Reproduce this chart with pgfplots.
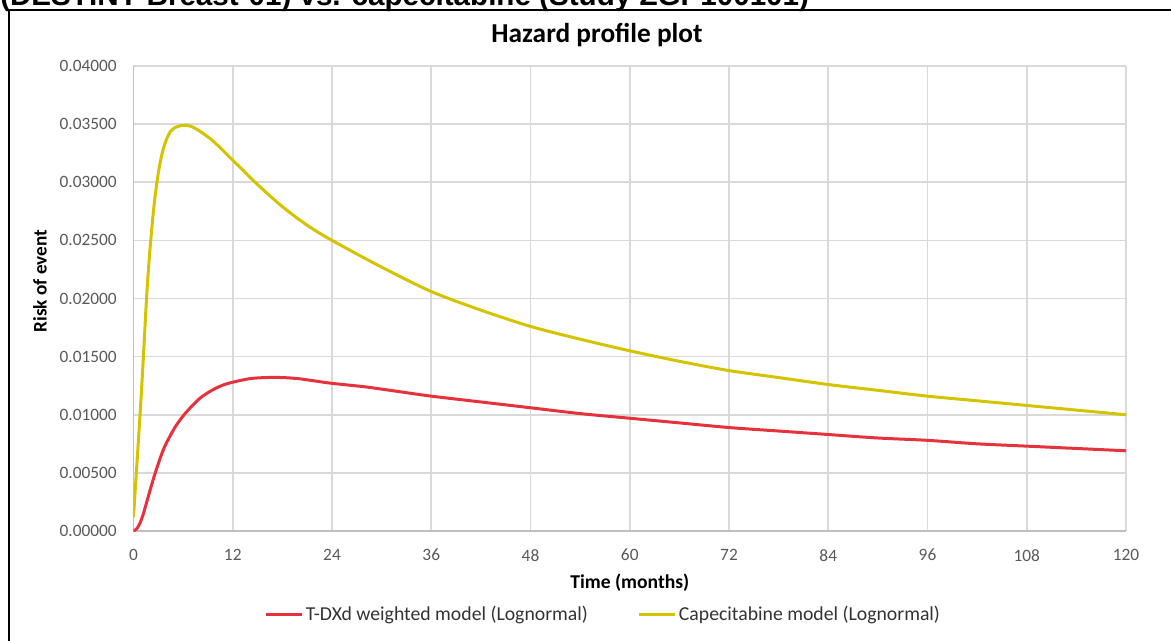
\documentclass[border=0pt]{standalone}
\usepackage{fontspec}
\setmainfont{Carlito}
\newfontfamily\arialfont{Liberation Sans}
\usepackage{pgfplots}
\pgfplotsset{compat=1.18}
\definecolor{tdxd}{RGB}{230,50,60}
\definecolor{cape}{RGB}{212,196,0}
\definecolor{gridc}{RGB}{217,217,217}
\definecolor{axc}{RGB}{191,191,191}
\definecolor{tickc}{RGB}{89,89,89}
\definecolor{legc}{RGB}{51,51,51}
\begin{document}
\begin{tikzpicture}
\useasboundingbox (0pt,0pt) rectangle (878.25pt,-480.75pt);
\clip (0pt,0pt) rectangle (878.25pt,-480.75pt);
\begin{scope}[x=0.75pt,y=-0.75pt]
\draw[line width=1.1pt] (9,10) rectangle (1190,660);
\node[font=\arialfont\bfseries\fontsize{22.2}{24}\selectfont, anchor=base west, inner sep=0pt] at (0,6) {(DESTINY-Breast-01) vs. capecitabine (Study ZGP100101)};
\end{scope}
\begin{axis}[
  at={(100.125pt,-398.25pt)}, anchor=south west,
  scale only axis, width=744.4pt, height=348.75pt,
  xmin=0, xmax=120, ymin=0, ymax=0.04,
  xtick={0,12,24,36,48,60,72,84,96,108,120},
  ytick={0,0.005,0.01,0.015,0.02,0.025,0.03,0.035,0.04},
  yticklabels={0.00000,0.00500,0.01000,0.01500,0.02000,0.02500,0.03000,0.03500,0.04000},
  scaled y ticks=false,
  /pgf/number format/assume math mode=true,
  grid=major,
  major grid style={gridc, line width=1.2pt},
  axis lines*=left,
  axis line style={axc, line width=1.2pt},
  major tick length=0pt,
  tick label style={font=\fontsize{13}{15}\selectfont, text=tickc},
  xticklabel style={inner sep=0pt, anchor=north, yshift=-13.5pt},
  yticklabel style={inner sep=0pt, anchor=east, xshift=-12.4pt},
  title={Hazard profile plot},
  title style={at={(rel axis cs:0.467,1.049)}, anchor=center, font=\bfseries\fontsize{20.5}{24}\selectfont},
  xlabel={Time (months)},
  xlabel style={at={(rel axis cs:0.5,-0.1118)}, anchor=center, font=\bfseries\fontsize{14.7}{17}\selectfont},
  ylabel={Risk of event},
  ylabel style={at={(rel axis cs:-0.0942,0.5376)}, anchor=center, font=\bfseries\fontsize{14.4}{17}\selectfont},
  legend columns=2,
  legend style={draw=none, fill=none, at={(rel axis cs:0.4735,-0.1785)}, anchor=center,
    font=\fontsize{14.8}{17}\selectfont, text=legc,
    /tikz/every even column/.append style={column sep=35pt}},
  legend image code/.code={\draw[#1] (0pt,0pt) -- (27pt,0pt);},
]
\addplot[tdxd, line width=2.25pt, smooth] coordinates {
(0,0) (0.4,0.0002) (0.8,0.0007) (1.2,0.0015) (1.6,0.0025) (2,0.0035) (2.5,0.0047) (3,0.0058) (3.5,0.0068) (4,0.0076) (5,0.0089) (6,0.0099) (7,0.0107) (8,0.0114) (9,0.0119) (10,0.0123) (11,0.0126) (12,0.0128) (14,0.0131) (16,0.0132) (18,0.0132) (20,0.0131) (22,0.0129) (24,0.0127) (28,0.0124) (32,0.0120) (36,0.0116) (42,0.0111) (48,0.0106) (54,0.0101) (60,0.0097) (66,0.0093) (72,0.0089) (78,0.0086) (84,0.0083) (90,0.0080) (96,0.0078) (102,0.0075) (108,0.0073) (114,0.0071) (120,0.0069)
};
\addlegendentry{T-DXd weighted model (Lognormal)}
\addplot[cape, line width=2.25pt, smooth] coordinates {
(0,0.0012) (0.8,0.0101) (1.2,0.0150) (1.6,0.0203) (2.0,0.0243) (2.5,0.0281) (3,0.0308) (3.5,0.0326) (4,0.0337) (4.5,0.0344) (5,0.0347) (6,0.0349) (7,0.0348) (8,0.0344) (9,0.0339) (10,0.0333) (12,0.0319) (15,0.0298) (18,0.0279) (21,0.0263) (24,0.0250) (30,0.0227) (36,0.0206) (42,0.0190) (48,0.0176) (54,0.0165) (60,0.0155) (66,0.0146) (72,0.0138) (78,0.0132) (84,0.0126) (90,0.0121) (96,0.0116) (102,0.0112) (108,0.0108) (114,0.0104) (120,0.0100)
};
\addlegendentry{Capecitabine model (Lognormal)}
\end{axis}
\end{tikzpicture}
\end{document}
